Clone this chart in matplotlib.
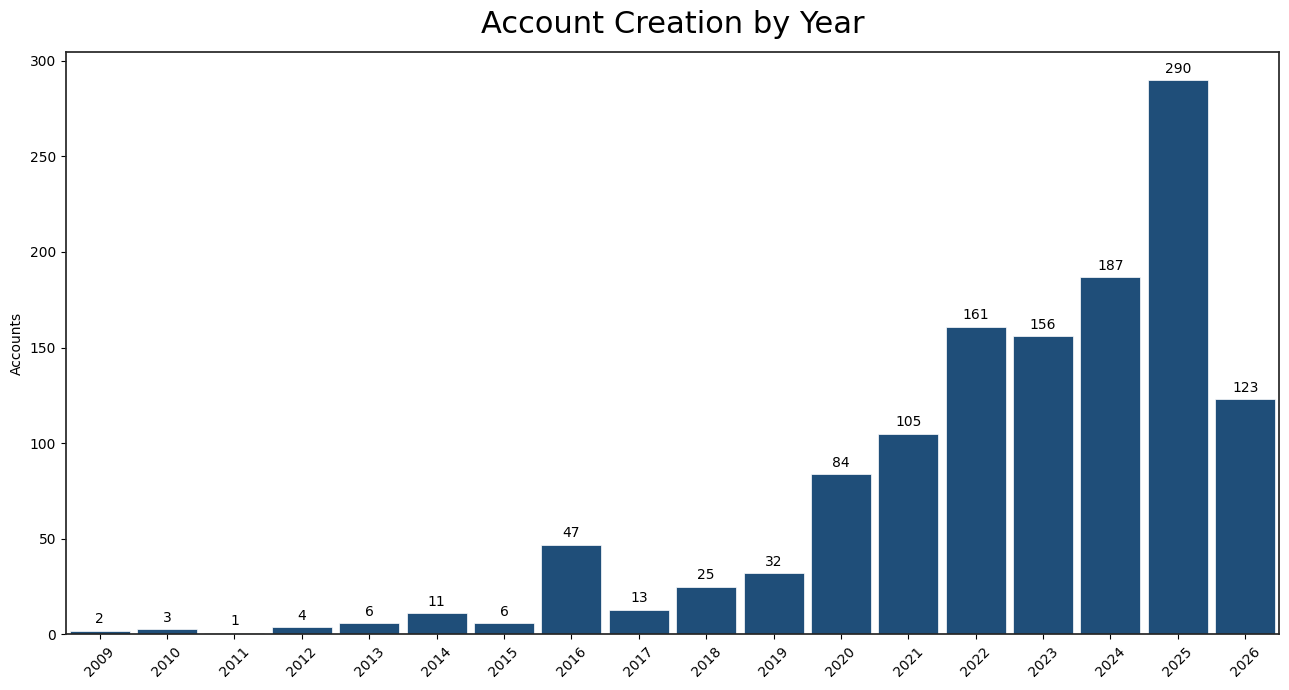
import matplotlib
matplotlib.use("Agg")
import matplotlib.pyplot as plt
import numpy as np

years = [2009, 2010, 2011, 2012, 2013, 2014, 2015, 2016, 2017,
         2018, 2019, 2020, 2021, 2022, 2023, 2024, 2025, 2026]
accounts = [2, 3, 1, 4, 6, 11, 6, 47, 13, 25, 32, 84, 105, 161, 156, 187, 290, 123]

fig = plt.figure(figsize=(12.89, 6.9), dpi=100)
ax = fig.add_axes([0.0512, 0.0805, 0.9410, 0.8441])

x = np.arange(len(years))
bars = ax.bar(x, accounts, width=0.89, color="#1f4e79", edgecolor="white", linewidth=0.5)
ax.bar_label(bars, labels=[str(v) for v in accounts], padding=3, fontsize=10)

ax.set_xlim(-0.5, len(years) - 0.5)
ax.set_ylim(0, max(accounts) * 1.05)
ax.set_xticks(x)
ax.set_xticklabels([str(y) for y in years], rotation=45)
ax.set_ylabel("Accounts")
for s in ax.spines.values():
    s.set_linewidth(1.25)
    s.set_color("#262626")

ax.set_title("Account Creation by Year", fontsize=22, pad=14)

fig.savefig("out.png", dpi=100)
